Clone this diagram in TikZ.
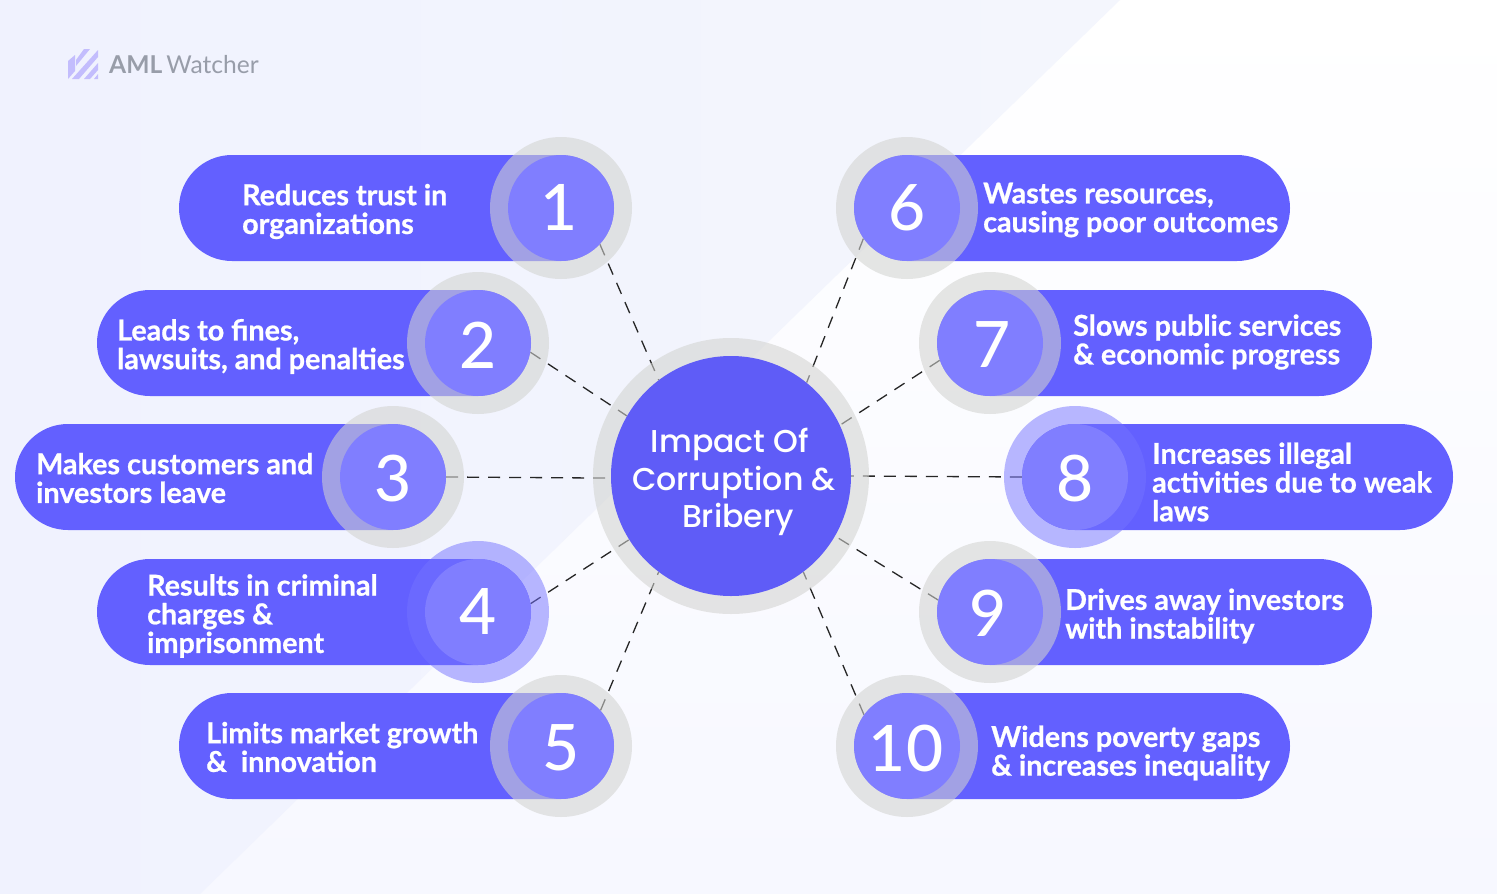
\documentclass[tikz,border=0pt]{standalone}
\usepackage{fontspec}
\setmainfont{Lato}[BoldFont={Lato Bold}]
\newfontfamily\hubfont{Poppins Medium}
\newfontfamily\labfont{Lato Bold}[FakeBold=0.8]
\newfontfamily\numfont{Lato Medium}
\definecolor{pillc}{HTML}{6360FF}
\definecolor{hubc}{HTML}{5F5CF7}
\definecolor{innerc}{HTML}{807EFF}
\definecolor{grayhalo}{HTML}{D2D3D0}
\definecolor{lavhalo}{HTML}{7472FF}
\definecolor{logoT}{HTML}{989DA9}
\definecolor{logoI}{HTML}{C3BDFD}
\definecolor{bgLow}{HTML}{F7F8FF}
\definecolor{bgL}{HTML}{F0F2FE}
\definecolor{bgR}{HTML}{F4F6FD}
\pgfdeclarelayer{bgl}
\pgfdeclarelayer{conn}
\pgfsetlayers{bgl,conn,main}
\newcommand{\dg}[2][-2pt]{\raisebox{#1}[\height][\depth]{#2}}
\tikzset{
  x=1pt,y=-1pt,
  pill/.style={fill=pillc,rounded corners=53pt},
  halo/.style={circle,fill=grayhalo,fill opacity=.57,minimum size=142pt,inner sep=0pt},
  lavh/.style={circle,fill=lavhalo,fill opacity=.5,minimum size=142pt,inner sep=0pt},
  num/.style={circle,fill=innerc,minimum size=106pt,inner sep=0pt,text=white,font=\fontsize{64}{64}\selectfont\numfont},
  lab/.style={anchor=west,align=left,text=white,inner sep=0pt,font=\fontsize{28.7}{28.7}\selectfont\labfont},
  hub/.style={circle,fill=hubc,minimum size=240pt,inner sep=0pt},
  hubtext/.style={text=white,align=center,inner sep=0pt,font=\fontsize{31.6}{37.5}\selectfont\hubfont},
  link/.style={draw=black!85,line width=1.3pt,dash pattern=on 12pt off 9pt},
}
\begin{document}
\begin{tikzpicture}
\useasboundingbox (0,0) rectangle (1497,894);
\begin{pgfonlayer}{bgl}
  \shade[bottom color=bgLow,top color=white] (0,0) rectangle (1497,894);
  \shade[left color=bgL,right color=bgR] (0,0) -- (1120,0) -- (200,894) -- (0,894) -- cycle;
\end{pgfonlayer}
% logo
\fill[logoI] (68,61) -- (75,55) -- (75,71) -- (68,79) -- cycle;
\fill[logoI] (76,60) -- (84,49) -- (90,49) -- (76,66) -- cycle;
\fill[logoI] (72,79) -- (98,50) -- (98,57) -- (79,79) -- cycle;
\fill[logoI] (84,79) -- (98,63) -- (98,70) -- (90,79) -- cycle;
\fill[logoI] (94,79) -- (98,74) -- (98,79) -- cycle;
\node[anchor=west,inner sep=0pt,text=logoT,font=\fontsize{24.6}{25}\selectfont] (logo) at (109,65) {\textbf{AML}\,Watcher};
% pills
\fill[pill] (179,155) rectangle (614,261);
\fill[pill] (97,290) rectangle (531,396);
\fill[pill] (15,424) rectangle (446,530);
\fill[pill] (97,559) rectangle (531,665);
\fill[pill] (179,693) rectangle (614,799);
\fill[pill] (854,155) rectangle (1290,261);
\fill[pill] (937,290) rectangle (1372,396);
\fill[pill] (1022,424) rectangle (1453,530);
\fill[pill] (937,559) rectangle (1372,665);
\fill[pill] (854,693) rectangle (1290,799);
% halos
\node[halo] (h1) at (561,208) {};
\node[halo] (h2) at (478,343) {};
\node[halo] (h3) at (393,477) {};
\node[lavh] (h4) at (478,612) {};
\node[halo] (h5) at (561,746) {};
\node[halo] (h6) at (907,208) {};
\node[halo] (h7) at (990,343) {};
\node[lavh] (h8) at (1075,477) {};
\node[halo] (h9) at (990,612) {};
\node[halo] (h10) at (907,746) {};
% numbers
\node[num] (n1) at (561,208) {\hspace*{-3pt}\dg[1pt]{1}};
\node[num] (n2) at (478,343) {\dg{2}};
\node[num] (n3) at (393,477) {\dg{3}};
\node[num] (n4) at (478,612) {\dg[0pt]{4}};
\node[num] (n5) at (561,746) {\dg{5}};
\node[num] (n6) at (907,208) {\dg[0pt]{6}};
\node[num] (n7) at (990,343) {\hspace*{4pt}\dg{7}};
\node[num] (n8) at (1075,477) {\dg{8}};
\node[num] (n9) at (990,612) {\hspace*{-3pt}\dg[-1pt]{9}};
\node[num] (n10) at (907,746) {\hspace*{-2pt}\dg{10}};
\node[circle,fill=grayhalo,fill opacity=.57,minimum size=276pt,inner sep=0pt] (chalo) at (731,476) {};
\node[hub] (c) at (731,476) {};
\node[hubtext] (ct) at (734,482) {\hspace*{-8pt}Impact Of\\Corruption \&\\\hspace*{8pt}Bribery};
% labels
\node[lab] (t1) at (242,211.5) {Reduces trust in\\organizations};
\node[lab] (t2) at (117,346.5) {Leads to fines,\\lawsuits, and penalties};
\node[lab] (t3) at (36,478) {Makes customers and\\investors leave};
\node[lab] (t4) at (147,616) {Results in criminal\\charges \&\\imprisonment};
\node[lab] (t5) at (206,747) {Limits market growth\\\&\ \ innovation};
\node[lab] (t6) at (983,210) {Wastes resources,\\causing poor outcomes};
\node[lab] (t7) at (1073,342) {Slows public services\\\& economic progress};
\node[lab] (t8) at (1152,482) {Increases illegal\\activities due to weak\\laws};
\node[lab] (t9) at (1065,616) {Drives away investors\\with instability};
\node[lab] (t10) at (991,753) {Widens poverty gaps\\\& increases inequality};
% connectors
\begin{pgfonlayer}{conn}
\draw[link] (n1.-43) -- (c.127.7);
\draw[link] (n2.-10) -- (c.150);
\draw[link] (n3.0) -- (c.181);
\draw[link] (n4.9) -- (c.212.8);
\draw[link] (n5.42) -- (c.233.4);
\draw[link] (n6.215) -- (c.51.8);
\draw[link] (n7.199) -- (c.25);
\draw[link] (n8.180) -- (c.-0.5);
\draw[link] (n9.167) -- (c.-30);
\draw[link] (n10.144) -- (c.-53);
\end{pgfonlayer}
\end{tikzpicture}
\end{document}
